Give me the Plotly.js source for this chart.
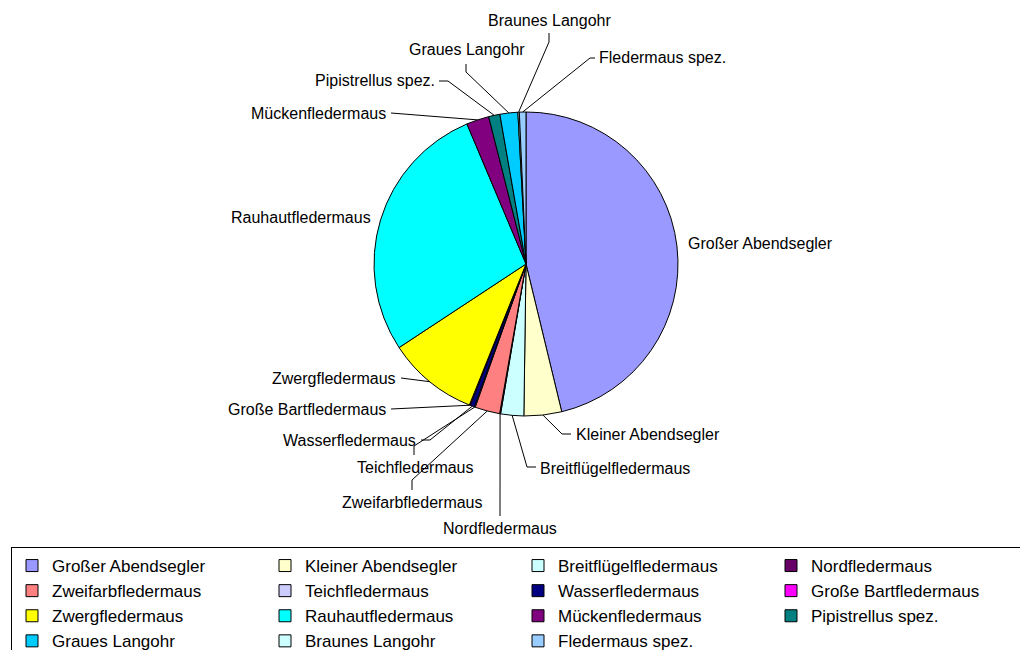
<!DOCTYPE html>
<html><head><meta charset="utf-8">
<script src="https://cdn.plot.ly/plotly-3.0.1.min.js"></script>
<style>body{margin:0;background:#fff}#chart{width:1020px;height:650px}</style>
</head><body><div id="chart"></div>
<script>
// ---- data ----
const species = ["Großer Abendsegler","Kleiner Abendsegler","Breitflügelfledermaus","Nordfledermaus",
  "Zweifarbfledermaus","Teichfledermaus","Wasserfledermaus","Große Bartfledermaus",
  "Zwergfledermaus","Rauhautfledermaus","Mückenfledermaus","Pipistrellus spez.",
  "Graues Langohr","Braunes Langohr","Fledermaus spez."];
const shares = [46.2, 4.0, 2.45, 0.1, 2.65, 0.1, 0.45, 0.1, 9.65, 27.9, 2.4, 1.2, 1.9, 0.15, 0.7];
const colors = ["#9999FF","#FFFFCC","#CCFFFF","#660066","#FF8080","#CCCCFF","#000080","#FF00FF",
  "#FFFF00","#00FFFF","#800080","#008080","#00CCFF","#CCFFFF","#99CCFF"];

// ---- layout (pixels) ----
const W = 1020, H = 650;
const CX = 526, CY = 264, R = 152;
// label text positions and leader-line bend points (layout only)
const labelLayout = [
  {tx:686, ty:243, xa:'left',   pts:null},
  {tx:574, ty:434, xa:'left',   pts:[[562,434],[571,434]]},
  {tx:538, ty:468, xa:'left',   pts:[[527,467],[536,467]]},
  {tx:500, ty:528, xa:'center', pts:[[500,516]]},
  {tx:412, ty:502, xa:'center', pts:[[412,480],[412,490]]},
  {tx:415, ty:467, xa:'center', pts:[[414,446],[414,455]]},
  {tx:418, ty:440, xa:'right',  pts:[[430,440],[421,440]]},
  {tx:388, ty:409, xa:'right',  pts:[[391,409]]},
  {tx:398, ty:378, xa:'right',  pts:[[401,378]]},
  {tx:373, ty:217, xa:'right',  pts:null},
  {tx:388, ty:113, xa:'right',  pts:[[391,113]]},
  {tx:437, ty:81,  xa:'right',  pts:[[448,81],[439,81]]},
  {tx:467, ty:50,  xa:'center', pts:[[466,72],[466,64]]},
  {tx:549, ty:20,  xa:'center', pts:[[549,42],[549,33]]},
  {tx:597, ty:58,  xa:'left',   pts:[[590,58],[595,58]]}
];

const px = x => x / W;
const py = y => 1 - y / H;

const total = shares.reduce((a,b)=>a+b,0);
let cum = 0;
const annotations = [], shapes = [];
shares.forEach((v,i)=>{
  const mid = (cum + v/2) / total * 2*Math.PI;
  cum += v;
  const ax = CX + R*Math.sin(mid), ay = CY - R*Math.cos(mid);
  const L = labelLayout[i];
  annotations.push({x:px(L.tx), y:py(L.ty), xref:'paper', yref:'paper', text:species[i],
    showarrow:false, xanchor:L.xa, yanchor:'middle',
    font:{family:'Liberation Sans, Arial, sans-serif', size:16, color:'#000'}});
  if (L.pts) {
    let d = `M${px(ax)},${py(ay)}`;
    L.pts.forEach(p=>{ d += ` L${px(p[0])},${py(p[1])}`; });
    shapes.push({type:'path', xref:'paper', yref:'paper', path:d, line:{color:'#000', width:1}});
  }
});

const trace = {
  type:'pie', labels:species, values:shares, sort:false, direction:'clockwise', rotation:0,
  marker:{colors:colors, line:{color:'#000', width:1}},
  textinfo:'none', hoverinfo:'none',
  domain:{x:[(CX-R)/W,(CX+R)/W], y:[1-(CY+R)/H, 1-(CY-R)/H]}
};

const layout = {
  width:W, height:H, margin:{l:0,r:0,t:0,b:0, autoexpand:false},
  paper_bgcolor:'#fff', plot_bgcolor:'#fff',
  font:{family:'Liberation Sans, Arial, sans-serif', color:'#000'},
  showlegend:true,
  legend:{orientation:'h', x:11/W, xanchor:'left', y:1-547/H, yanchor:'top',
    bordercolor:'#000', borderwidth:1, bgcolor:'#fff',
    entrywidth:208, entrywidthmode:'pixels', traceorder:'normal',
    font:{family:'Liberation Sans, Arial, sans-serif', size:17, color:'#000'}},
  annotations:annotations, shapes:shapes
};

Plotly.newPlot('chart', [trace], layout, {staticPlot:true, displayModeBar:false});
</script>
</body></html>
